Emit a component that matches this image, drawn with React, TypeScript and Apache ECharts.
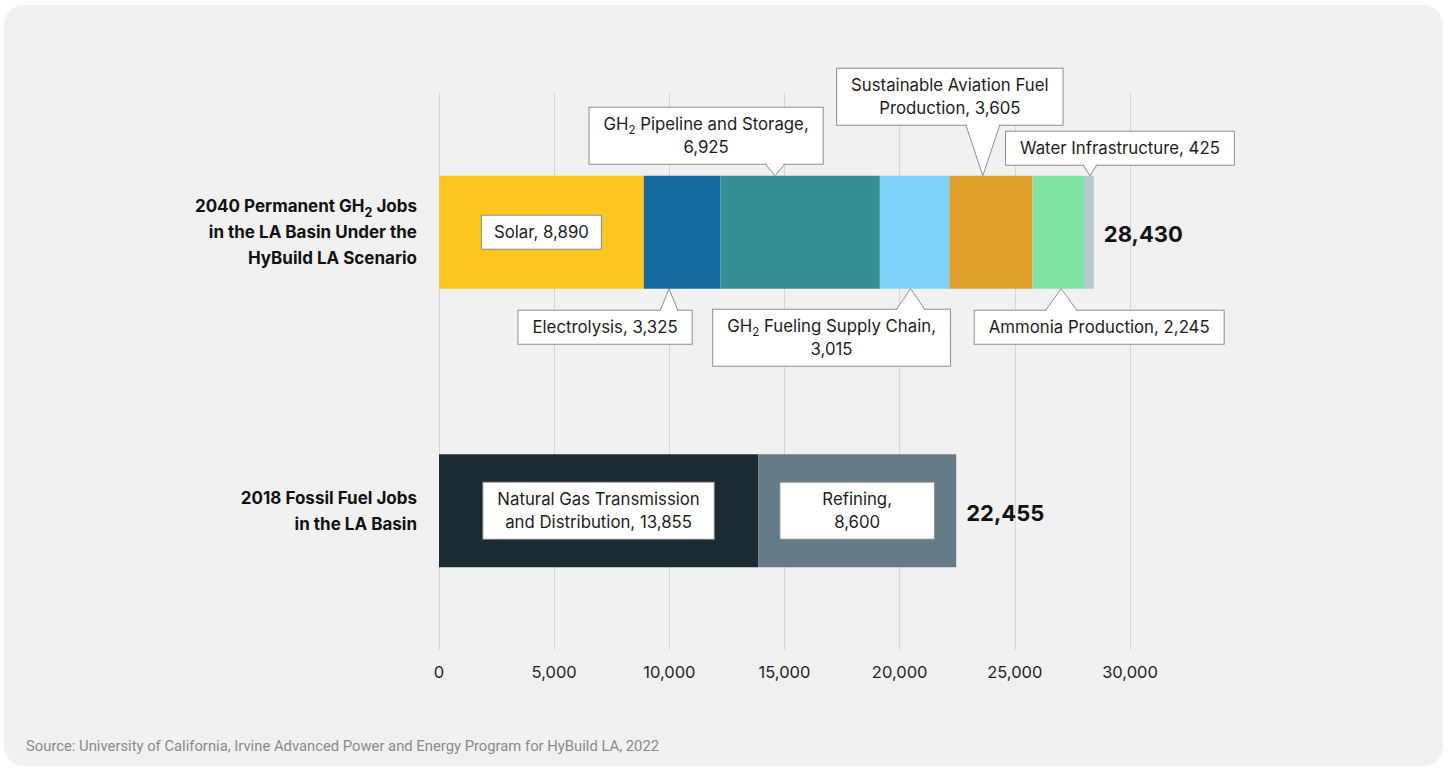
import React, { useEffect, useRef } from 'react';
import * as echarts from 'echarts';

// ---------- data ----------
const categories = [
  '2040 Permanent GH₂ Jobs\nin the LA Basin Under the\nHyBuild LA Scenario',
  '2018 Fossil Fuel Jobs\nin the LA Basin',
];
const names2040 = [
  'Solar',
  'Electrolysis',
  'GH₂ Pipeline and Storage',
  'GH₂ Fueling Supply Chain',
  'Sustainable Aviation Fuel\nProduction',
  'Ammonia Production',
  'Water Infrastructure',
];
const values2040 = [8890, 3325, 6925, 3015, 3605, 2245, 425];
const names2018 = ['Natural Gas Transmission\nand Distribution', 'Refining'];
const values2018 = [13855, 8600];
const xMin = 0;
const xMax = 30000;
const xStep = 5000;
const sourceText = 'Source: University of California, Irvine Advanced Power and Energy Program for HyBuild LA, 2022';

// ---------- styles ----------
const FONT = 'Inter, "Noto Sans", sans-serif';
const colors2040 = ['#FEC620', '#126A9E', '#358E91', '#7DD3F7', '#DEA22B', '#7FE3A4', '#B8C8D0'];
const colors2018 = ['#1C2A32', '#657B87'];
const BAR_W = 113;
const BORDER = '#8f8f8f';
const TEXT = '#1d1d1d';
const LBL_FS = 16.8;

// label layout per segment (style only)
type LabelLayout =
  | { kind: 'inside'; newline: boolean; pad: number[] }
  | { kind: 'above' | 'below'; newline: boolean; tipDx: number; boxDx: number; gap: number; base: number };

const layout2040: LabelLayout[] = [
  { kind: 'inside', newline: false, pad: [5, 12] },
  { kind: 'below', newline: false, tipDx: -13, boxDx: -64, gap: 22, base: 18 },
  { kind: 'above', newline: true, tipDx: -25, boxDx: -69, gap: 12, base: 20 },
  { kind: 'below', newline: true, tipDx: -4, boxDx: -79, gap: 21, base: 29 },
  { kind: 'above', newline: false, tipDx: -8, boxDx: -33, gap: 51, base: 34 },
  { kind: 'below', newline: false, tipDx: 3, boxDx: 38, gap: 22, base: 32 },
  { kind: 'above', newline: false, tipDx: 1, boxDx: 30, gap: 11, base: 14 },
];
const layout2018: LabelLayout[] = [
  { kind: 'inside', newline: false, pad: [5, 14] },
  { kind: 'inside', newline: true, pad: [5, 42] },
];

const fmt = (v: number) => v.toLocaleString('en-US');
const toRich = (s: string) => s.replace(/₂/g, '{s|2}');
const labelText = (name: string, v: number, newline: boolean) =>
  toRich(name + ',' + (newline ? '\n' : ' ') + fmt(v));

const calloutRich = {
  s: { fontSize: 11.5, lineHeight: 17, verticalAlign: 'bottom', fontFamily: FONT, color: TEXT },
};

export default function App() {
  const ref = useRef<HTMLDivElement>(null);

  useEffect(() => {
    if (!ref.current) return;
    const chart = echarts.init(ref.current, undefined, { renderer: 'svg' });

    const series: any[] = [];
    const callouts: any[] = [];
    const calloutData: any[] = [];

    const addGroup = (names: string[], values: number[], cols: string[], lays: LabelLayout[], catIdx: number) => {
      let cum = 0;
      names.forEach((name, i) => {
        const v = values[i];
        const lay = lays[i];
        const data = categories.map((_, ci) => (ci === catIdx ? v : null));
        const s: any = {
          type: 'bar',
          name,
          stack: 'total',
          barWidth: BAR_W,
          data,
          itemStyle: { color: cols[i] },
          silent: true,
        };
        if (lay.kind === 'inside') {
          s.label = {
            show: true,
            position: 'inside',
            formatter: labelText(name, v, lay.newline),
            rich: calloutRich,
            backgroundColor: '#fff',
            borderColor: BORDER,
            borderWidth: 1,
            padding: lay.pad,
            fontSize: LBL_FS,
            lineHeight: 23,
            fontFamily: FONT,
            color: TEXT,
            align: 'center',
          };
        } else {
          callouts.push({ ...lay, text: labelText(name, v, lay.newline) });
          calloutData.push([cum + v / 2, catIdx]);
        }
        series.push(s);
        cum += v;
      });
    };
    addGroup(names2040, values2040, colors2040, layout2040, 0);
    addGroup(names2018, values2018, colors2018, layout2018, 1);

    series.push({
      type: 'custom',
      name: 'callouts',
      silent: true,
      z: 5,
      encode: { x: 0, y: 1 },
      data: calloutData,
      renderItem: (params: any, api: any) => {
        const c = callouts[params.dataIndex];
        const pt = api.coord([api.value(0), api.value(1)]);
        const tx = pt[0] + c.tipDx;
        const half = BAR_W / 2;
        const above = c.kind === 'above';
        const edgeY = above ? pt[1] - half : pt[1] + half;
        const boxY = above ? edgeY - c.gap : edgeY + c.gap;
        const bx = tx + c.boxDx;
        const b = c.base / 2;
        const inset = above ? -1.5 : 1.5;
        return {
          type: 'group',
          children: [
            {
              type: 'text',
              z2: 1,
              style: {
                text: c.text,
                rich: calloutRich,
                x: bx,
                y: boxY,
                align: 'center',
                verticalAlign: above ? 'bottom' : 'top',
                fontSize: LBL_FS,
                lineHeight: 23,
                fontFamily: FONT,
                fill: TEXT,
                backgroundColor: '#fff',
                borderColor: BORDER,
                borderWidth: 1,
                padding: [5, 14],
              },
            },
            {
              type: 'polygon',
              z2: 2,
              shape: { points: [[tx - b, boxY + inset], [tx, edgeY], [tx + b, boxY + inset]] },
              style: { fill: '#fff' },
            },
            {
              type: 'polyline',
              z2: 3,
              shape: { points: [[tx - b, boxY], [tx, edgeY], [tx + b, boxY]] },
              style: { stroke: BORDER, lineWidth: 1, fill: 'none' },
            },
          ],
        };
      },
    });

    const totals = [values2040, values2018].map((arr) => arr.reduce((a, b) => a + b, 0));
    series.push({
      type: 'custom',
      name: 'totals',
      silent: true,
      z: 5,
      encode: { x: 0, y: 1 },
      data: totals.map((t, i) => [t, i]),
      renderItem: (params: any, api: any) => {
        const pt = api.coord([api.value(0), api.value(1)]);
        return {
          type: 'text',
          style: {
            text: fmt(api.value(0)),
            x: pt[0] + 10,
            y: pt[1] + 2,
            align: 'left',
            verticalAlign: 'middle',
            fontSize: 22,
            fontWeight: 'bold',
            fontFamily: FONT,
            fill: '#111',
          },
        };
      },
    });

    chart.setOption({
      animation: false,
      backgroundColor: 'transparent',
      grid: { left: 439, right: 317, top: 93, bottom: 120, containLabel: false },
      xAxis: {
        type: 'value',
        min: xMin,
        max: xMax,
        interval: xStep,
        axisLine: { show: false },
        axisTick: { show: false },
        splitLine: { show: true, lineStyle: { color: '#d6d6d6', width: 1 } },
        axisLabel: {
          formatter: (v: number) => fmt(v),
          fontSize: 16.5,
          color: '#1f1f1f',
          fontFamily: FONT,
          margin: 13,
        },
      },
      yAxis: {
        type: 'category',
        inverse: true,
        data: categories,
        axisLine: { show: false },
        axisTick: { show: false },
        splitLine: { show: false },
        axisLabel: {
          formatter: (v: string) => toRich(v),
          fontSize: 17,
          fontWeight: 'bold',
          lineHeight: 26,
          color: '#111',
          fontFamily: FONT,
          margin: 22,
          align: 'right',
          rich: {
            s: { fontSize: 12.5, fontWeight: 'bold', lineHeight: 14, verticalAlign: 'bottom', fontFamily: FONT, color: '#111' },
          },
        },
      },
      graphic: [
        {
          type: 'text',
          left: 26,
          top: 738,
          silent: true,
          style: { text: sourceText, fontSize: 14.8, fontFamily: 'Roboto, sans-serif', fill: '#8a8a8a' },
        },
      ],
      series,
    });

    return () => chart.dispose();
  }, []);

  return (
    <div style={{ position: 'absolute', left: 0, top: 0, width: 1447, height: 770, background: '#ffffff' }}>
      <div
        style={{
          position: 'absolute',
          left: 4,
          top: 5,
          width: 1439,
          height: 761,
          borderRadius: 20,
          background: '#f1f1f1',
        }}
      />
      <div ref={ref} style={{ position: 'absolute', left: 0, top: 0, width: 1447, height: 770 }} />
    </div>
  );
}
